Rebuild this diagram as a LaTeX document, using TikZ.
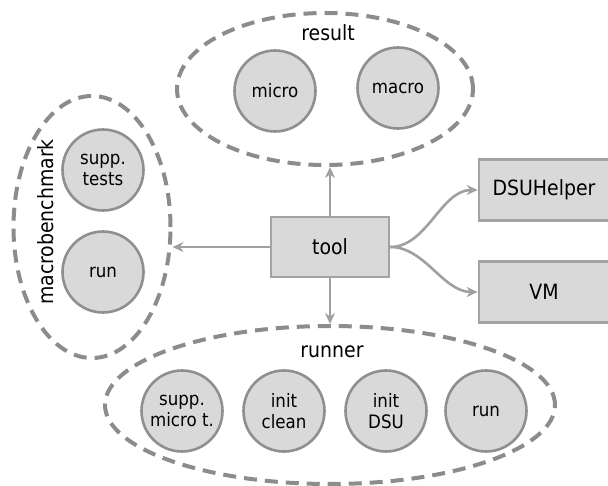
\documentclass[tikz,border=0pt]{standalone}
\usepackage{fontspec}
\setmainfont{DejaVu Sans Condensed}
\usetikzlibrary{shapes.geometric,arrows.meta}
\definecolor{cfill}{HTML}{D9D9D9}
\definecolor{cborder}{HTML}{8F8F8F}
\definecolor{bborder}{HTML}{A3A3A3}
\definecolor{dashc}{HTML}{8C8C8C}
\definecolor{arrc}{HTML}{A0A0A0}
\tikzset{
  circ/.style={circle, draw=cborder, fill=cfill, line width=2.6pt, minimum size=81pt, inner sep=0pt, align=center, font=\fontsize{18.5}{21}\selectfont},
  boxn/.style={rectangle, draw=bborder, fill=cfill, line width=2.6pt, minimum width=118pt, minimum height=60pt, inner sep=0pt, font=\fontsize{21}{23}\selectfont},
  grp/.style={ellipse, draw=dashc, line width=4pt, dash pattern=on 13pt off 8pt, inner sep=0pt},
  lbl/.style={font=\fontsize{21}{23}\selectfont, inner sep=0pt},
  conn/.style={draw=arrc, line width=2.6pt, -{Stealth[length=11pt,width=10pt,fill=arrc!70]}}
}
\begin{document}
\begin{tikzpicture}[x=1pt,y=-1pt]
\useasboundingbox (0,0) rectangle (608,486);
% groups
\node[grp, minimum width=296pt, minimum height=152pt] (result) at (325,89) {};
\node[grp, minimum width=157pt, minimum height=262pt] (macrobench) at (92,227) {};
\node[grp, minimum width=450pt, minimum height=158pt] (runner) at (330,405) {};
% labels
\node[lbl] (resultlbl) at (328,33) {result};
\node[lbl] (runnerlbl) at (332,352) {runner};
\node[lbl, rotate=90] (macrolbl) at (46,222) {macrobenchmark};
% result circles
\node[circ] (micro) at (275,91) {micro};
\node[circ] (macro) at (398,88) {macro};
% macrobenchmark circles
\node[circ] (supptests) at (103,170) {supp.\\tests};
\node[circ] (mrun) at (103,272) {run};
% runner circles
\node[circ] (suppmicro) at (182,411) {supp.\\micro t.};
\node[circ] (initclean) at (284,411) {init\\clean};
\node[circ] (initdsu) at (386,411) {init\\DSU};
\node[circ] (rrun) at (486,411) {run};
% boxes
\node[boxn] (tool) at (330,247) {tool};
\node[boxn, minimum width=130pt, minimum height=61pt] (dsu) at (544,190) {DSUHelper};
\node[boxn, minimum width=130pt, minimum height=61pt] (vm) at (544,292) {VM};
% connectors
\draw[conn] (tool.north) -- (tool.north |- result.south);
\draw[conn] (tool.south) -- (tool.south |- runner.north);
\draw[conn] (tool.west) -- (macrobench.east |- tool.west);
\draw[conn] (tool.east) to[out=0,in=180,looseness=0.9] (dsu.west);
\draw[conn] (tool.east) to[out=0,in=180,looseness=0.9] (vm.west);
\end{tikzpicture}
\end{document}
